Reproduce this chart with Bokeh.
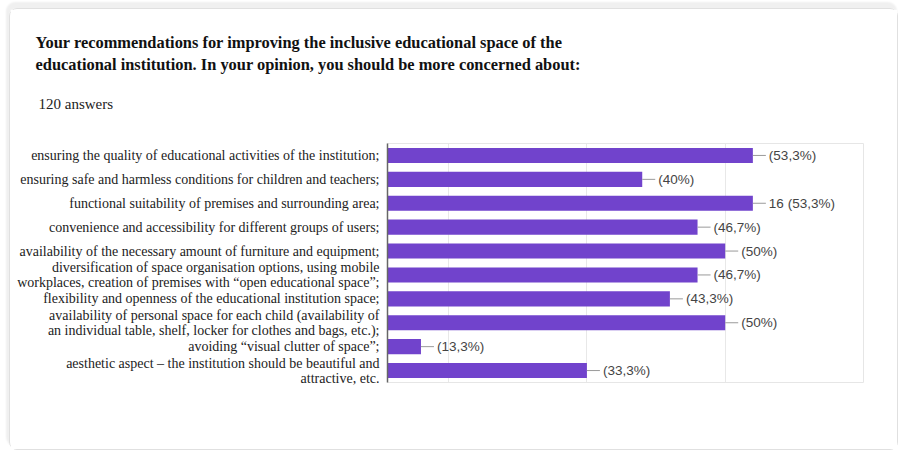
from bokeh.plotting import figure
from bokeh.models import FactorRange, Range1d, Title, FixedTicker, ColumnDataSource
from bokeh.core.properties import value
from bokeh.embed import file_html
from bokeh.resources import INLINE

title_lines = [
    "Your recommendations for improving the inclusive educational space of the",
    "educational institution. In your opinion, you should be more concerned about:",
]
subtitle = "120 answers"

categories = [
    "ensuring the quality of educational activities of the institution;",
    "ensuring safe and harmless conditions for children and teachers;",
    "functional suitability of premises and surrounding area;",
    "convenience and accessibility for different groups of users;",
    "availability of the necessary amount of furniture and equipment;",
    "diversification of space organisation options, using mobile\nworkplaces, creation of premises with \u201copen educational space\u201d;",
    "flexibility and openness of the educational institution space;",
    "availability of personal space for each child (availability of\nan individual table, shelf, locker for clothes and bags, etc.);",
    "avoiding \u201cvisual clutter of space\u201d;",
    "aesthetic aspect \u2013 the institution should be beautiful and\nattractive, etc.",
]
counts = [16, 12, 16, 14, 15, 14, 13, 15, 4, 10]
value_labels = ["(53,3%)", "(40%)", "16 (53,3%)", "(46,7%)", "(50%)",
                "(46,7%)", "(43,3%)", "(50%)", "(13,3%)", "(33,3%)"]
grid_ticks = [5, 10, 15, 20]

src = ColumnDataSource(dict(cat=categories, count=counts, lab=value_labels,
                            zero=[0] * len(counts)))

W, H = 889, 442
p = figure(width=W, height=H, output_backend="svg", toolbar_location=None,
           y_range=FactorRange(factors=list(reversed(categories))),
           x_range=Range1d(2.79, 20),
           min_border_left=377, min_border_top=134, min_border_right=36,
           min_border_bottom=69)
p.styles = {"margin-left": "9px", "margin-top": "8px",
            "border": "1px solid #e0e0e0", "border-radius": "8px",
            "box-shadow": "-2px -5px 2px 1px #f0f0f0"}
p.background_fill_color = "white"
p.border_fill_color = "white"
p.outline_line_color = "#e6e6e6"

p.hbar(y="cat", left="zero", right="count", height=0.63, source=src,
       fill_color="#7143CC", line_color=None)
p.ray(x="count", y="cat", length=13, length_units="screen", angle=0,
      source=src, line_color="#9a9a9a", line_width=1)
p.text(x="count", y="cat", text="lab", source=src, x_offset=16,
       text_baseline="middle", text_align="left", text_color="#444444",
       text_font=value("Liberation Sans"), text_font_size="13.5px")

p.xaxis.visible = False
p.xgrid.ticker = FixedTicker(ticks=grid_ticks)
p.xgrid.grid_line_color = "#e8e8e8"
p.ygrid.grid_line_color = None

yax = p.yaxis[0]
yax.axis_line_color = "#666666"
yax.axis_line_width = 1.5
yax.major_tick_line_color = None
yax.minor_tick_line_color = None
yax.major_tick_out = 0
yax.major_label_standoff = 8
yax.major_label_text_font = "Liberation Serif"
yax.major_label_text_font_size = "14px"
yax.major_label_text_line_height = 1.0
yax.major_label_text_color = "#222222"

has_standoff = "standoff" in p.title.properties()

# outermost title: first line of the question
p.title.text = title_lines[0]
p.title.align = "left"
p.title.offset = -352
p.title.text_font = "Liberation Serif"
p.title.text_font_style = "bold"
p.title.text_font_size = "16.4px"
p.title.text_color = "#111111"
if has_standoff:
    p.title.standoff = 19

# added titles stack outward from the frame: answers count first, then line 2
sub = Title(text=subtitle, align="left", offset=-349, text_font="Liberation Serif",
            text_font_style="normal", text_font_size="15px", text_color="#222222")
line2 = Title(text=title_lines[1], align="left", offset=-352, text_font="Liberation Serif",
              text_font_style="bold", text_font_size="16.4px", text_color="#111111")
if has_standoff:
    sub.standoff = 64
    line2.standoff = -24
p.add_layout(sub, "above")
p.add_layout(line2, "above")

open("out.html", "w").write(file_html(p, INLINE))
